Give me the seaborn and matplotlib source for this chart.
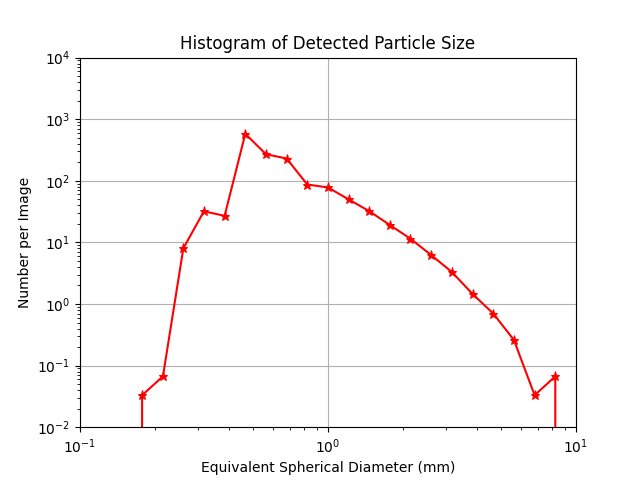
import matplotlib
matplotlib.use("Agg")
import matplotlib.pyplot as plt
import seaborn as sns
import numpy as np

diameter_mm = [0.147, 0.178, 0.216, 0.261, 0.316, 0.383, 0.464, 0.562, 0.681, 0.825, 1.0,
               1.21, 1.47, 1.78, 2.15, 2.61, 3.16, 3.83, 4.64, 5.62, 6.81, 8.25, 10.0]
count_per_image = [0, 0.033, 0.067, 8, 32, 27, 580, 270, 230, 87, 78,
                   50, 32, 19, 11.5, 6.2, 3.3, 1.45, 0.7, 0.26, 0.033, 0.067, 0]

fig, ax = plt.subplots(figsize=(6.4, 4.8), dpi=100)
ax.set_xscale("log")
ax.set_yscale("log", nonpositive="clip")
sns.lineplot(x=diameter_mm, y=count_per_image, ax=ax, color="red", marker="*",
             markersize=6.5, markeredgecolor="red", sort=False, estimator=None)
ax.set_xlim(0.1, 10)
ax.set_ylim(0.01, 1e4)
ax.grid(True, which="major", color="#b0b0b0", linewidth=0.8)
ax.set_title("Histogram of Detected Particle Size")
ax.set_xlabel("Equivalent Spherical Diameter (mm)")
ax.set_ylabel("Number per Image")
fig.savefig("out.png", dpi=100)
